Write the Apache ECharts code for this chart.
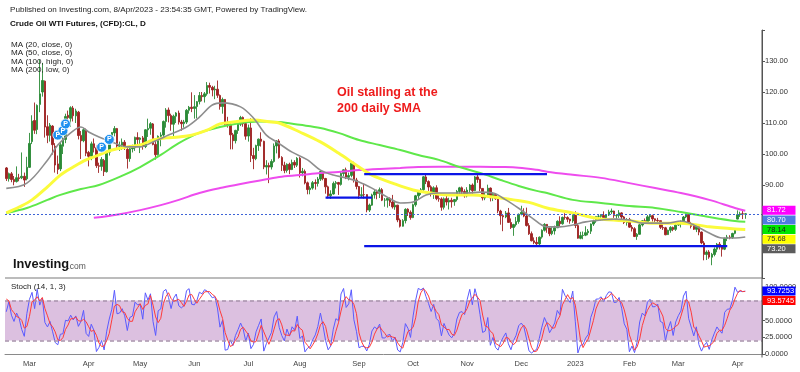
<!DOCTYPE html>
<html><head><meta charset="utf-8">
<script src="https://cdn.jsdelivr.net/npm/echarts/dist/echarts.min.js"></script>
<style>html,body{margin:0;padding:0;background:#fff}#c{width:800px;height:372px}</style>
</head><body><div id="c"></div>
<script>
// ---- DATA ----
// look-back bars (before the visible window) used only by the stochastic: [date, open, high, low, close]
const preCandles = [
["2022-01-25",84.3,86.0,83.0,85.60],["2022-01-26",85.6,87.9,85.3,87.35],["2022-01-27",87.4,88.2,85.7,87.61],
["2022-01-28",87.6,88.8,86.1,86.82],["2022-01-31",86.8,88.4,86.2,88.15],["2022-02-01",88.2,88.8,86.7,88.20],
["2022-02-02",88.2,89.0,86.6,88.26],["2022-02-03",88.3,90.4,87.7,90.27],["2022-02-04",90.3,93.2,89.8,92.31],
["2022-02-07",92.3,92.7,90.1,91.32],["2022-02-08",91.3,91.7,88.8,89.36],["2022-02-09",89.4,90.5,88.4,89.66],
["2022-02-10",89.7,91.5,88.7,89.88],["2022-02-11",89.9,94.7,88.9,93.10],["2022-02-14",93.1,95.8,92.5,95.46]
];
// visible daily bars: [date, open, high, low, close]
const candles = [
["2022-02-15",95.5,95.8,91.3,92.07],["2022-02-16",92.0,94.0,91.1,93.66],["2022-02-17",93.6,94.2,90.9,91.76],
["2022-02-18",91.8,92.9,89.9,91.07],["2022-02-22",91.1,96.0,90.8,92.35],["2022-02-23",92.3,93.6,91.2,92.10],
["2022-02-24",92.3,100.5,91.9,92.81],["2022-02-25",92.8,94.0,89.4,91.59],["2022-02-28",92.0,99.1,91.5,95.72],
["2022-03-01",95.7,106.8,95.5,103.41],["2022-03-02",104.0,112.5,103.2,110.60],["2022-03-03",110.8,116.6,106.5,107.67],
["2022-03-04",107.9,116.0,106.4,115.68],["2022-03-07",116.0,130.5,113.5,119.40],["2022-03-08",120.0,129.4,118.5,123.70],
["2022-03-09",123.5,123.7,105.3,108.70],["2022-03-10",108.8,112.5,103.5,106.02],["2022-03-11",106.0,110.0,104.0,109.33],
["2022-03-14",109.0,109.3,99.8,103.01],["2022-03-15",102.5,103.5,94.0,96.44],["2022-03-16",96.8,99.5,93.5,95.04],
["2022-03-17",95.2,103.8,94.5,102.98],["2022-03-18",102.5,106.0,100.0,104.70],["2022-03-21",104.7,113.0,103.5,112.12],
["2022-03-22",112.5,114.0,108.5,111.76],["2022-03-23",111.5,115.4,108.8,114.93],["2022-03-24",114.8,115.5,110.5,112.34],
["2022-03-25",112.3,114.6,110.0,113.90],["2022-03-28",113.5,113.9,104.7,105.96],["2022-03-29",106.0,107.4,98.4,104.24],
["2022-03-30",104.3,108.4,103.8,107.82],["2022-03-31",107.5,108.2,99.3,100.28],
["2022-04-01",100.5,101.0,96.0,99.27],["2022-04-04",99.3,104.0,98.0,103.28],["2022-04-05",103.3,105.0,100.5,102.00],
["2022-04-06",102.0,102.7,95.5,96.23],["2022-04-07",96.2,97.2,93.9,96.03],["2022-04-08",96.0,99.0,94.6,98.26],
["2022-04-11",97.9,98.4,92.9,94.29],["2022-04-12",94.3,101.0,94.0,100.60],["2022-04-13",100.6,104.6,99.5,104.25],
["2022-04-14",104.2,107.0,103.5,106.95],["2022-04-18",106.8,109.0,105.7,108.21],["2022-04-19",108.2,108.4,101.8,102.56],
["2022-04-20",102.5,104.0,101.0,102.75],["2022-04-21",102.8,105.0,101.3,103.79],["2022-04-22",103.8,104.5,101.3,102.07],
["2022-04-25",101.5,102.3,95.3,98.54],["2022-04-26",98.5,102.0,97.5,101.70],["2022-04-27",101.7,103.0,100.5,102.02],
["2022-04-28",102.0,105.6,101.0,105.36],["2022-04-29",105.3,107.0,103.2,104.69],
["2022-05-02",104.7,105.4,100.3,105.17],["2022-05-03",105.2,105.8,101.4,102.41],["2022-05-04",102.4,108.0,101.9,107.81],
["2022-05-05",107.8,111.4,105.5,108.26],["2022-05-06",108.3,110.3,106.2,109.77],["2022-05-09",109.7,110.0,102.8,103.09],
["2022-05-10",103.1,104.4,98.2,99.76],["2022-05-11",99.8,106.0,99.5,105.71],["2022-05-12",105.7,107.0,102.5,106.13],
["2022-05-13",106.1,110.8,105.0,110.49],["2022-05-16",110.5,114.8,108.5,114.20],["2022-05-17",114.2,115.0,110.2,112.40],
["2022-05-18",112.4,113.0,107.5,109.59],["2022-05-19",109.6,112.7,105.4,112.21],["2022-05-20",112.2,113.5,110.0,113.23],
["2022-05-23",113.2,114.0,109.5,110.29],["2022-05-24",110.3,111.0,107.5,109.77],["2022-05-25",109.8,111.0,108.5,110.33],
["2022-05-26",110.3,114.5,109.7,114.09],["2022-05-27",114.1,115.5,113.0,115.07],["2022-05-31",115.1,119.9,113.5,114.67],
["2022-06-01",114.7,119.0,111.4,115.26],["2022-06-02",115.3,117.1,111.5,116.87],["2022-06-03",116.9,120.0,116.0,118.87],
["2022-06-06",118.9,120.0,117.0,118.50],["2022-06-07",118.5,120.0,116.6,119.41],["2022-06-08",119.4,123.2,118.8,122.11],
["2022-06-09",122.1,123.0,119.5,121.51],["2022-06-10",121.5,122.0,118.6,120.67],["2022-06-13",120.7,122.0,117.7,120.93],
["2022-06-14",120.9,123.7,118.1,118.93],["2022-06-15",118.9,119.2,114.3,115.31],["2022-06-16",115.3,118.2,113.0,117.59],
["2022-06-17",117.6,117.7,108.7,109.56],["2022-06-21",109.6,112.0,108.5,109.52],["2022-06-22",109.5,110.0,101.5,106.19],
["2022-06-23",106.2,106.8,101.5,104.27],["2022-06-24",104.3,107.8,103.4,107.62],["2022-06-27",107.6,110.0,106.5,109.57],
["2022-06-28",109.6,112.3,109.0,111.76],["2022-06-29",111.8,112.1,108.8,109.78],["2022-06-30",109.8,110.5,104.6,105.76],
["2022-07-01",105.8,109.5,104.0,108.43],["2022-07-05",108.4,111.5,97.4,99.50],["2022-07-06",99.5,102.0,95.1,98.53],
["2022-07-07",98.5,103.0,98.0,102.73],["2022-07-08",102.7,105.0,101.0,104.79],["2022-07-11",104.8,107.0,102.4,104.09],
["2022-07-12",104.1,104.3,95.1,95.84],["2022-07-13",95.8,98.0,93.4,96.30],["2022-07-14",96.3,97.2,90.6,95.78],
["2022-07-15",95.8,98.3,95.0,97.59],["2022-07-18",97.6,103.4,97.2,102.60],["2022-07-19",102.6,104.5,100.2,104.22],
["2022-07-20",104.2,104.8,98.5,98.88],["2022-07-21",98.9,99.3,94.5,96.35],["2022-07-22",96.4,97.5,93.8,94.70],
["2022-07-25",94.7,97.0,94.0,96.70],["2022-07-26",96.7,97.2,93.5,94.98],["2022-07-27",95.0,98.2,94.8,97.26],
["2022-07-28",97.3,98.0,95.5,96.42],["2022-07-29",96.4,99.0,95.8,98.62],
["2022-08-01",98.6,99.0,92.4,93.89],["2022-08-02",93.9,95.5,92.8,94.42],["2022-08-03",94.4,95.0,90.2,90.66],
["2022-08-04",90.7,91.1,87.0,88.54],["2022-08-05",88.5,89.6,87.0,89.01],["2022-08-08",89.0,91.3,88.5,90.76],
["2022-08-09",90.8,91.8,88.5,90.50],["2022-08-10",90.5,92.6,89.5,91.93],["2022-08-11",91.9,94.7,91.3,94.34],
["2022-08-12",94.3,94.4,91.5,92.09],["2022-08-15",92.1,92.3,87.2,89.41],["2022-08-16",89.4,89.8,85.7,86.53],
["2022-08-17",86.5,88.3,85.5,87.11],["2022-08-18",87.1,91.1,86.9,90.50],["2022-08-19",90.5,91.3,88.9,90.77],
["2022-08-22",90.8,91.0,86.8,90.23],["2022-08-23",90.2,94.3,89.8,93.74],["2022-08-24",93.7,95.1,92.8,94.89],
["2022-08-25",94.9,95.6,91.9,92.52],["2022-08-26",92.5,94.0,91.5,93.06],["2022-08-29",93.1,97.5,92.5,97.01],
["2022-08-30",97.0,97.5,90.8,91.64],["2022-08-31",91.6,92.3,88.6,89.55],
["2022-09-01",89.5,89.7,85.5,86.61],["2022-09-02",86.6,89.3,86.1,86.87],["2022-09-06",86.9,90.4,85.6,86.88],
["2022-09-07",86.9,87.0,81.2,81.94],["2022-09-08",81.9,84.0,81.3,83.54],["2022-09-09",83.5,87.2,83.3,86.79],
["2022-09-12",86.8,88.6,85.6,87.78],["2022-09-13",87.8,88.5,85.4,87.31],["2022-09-14",87.3,89.2,85.8,88.48],
["2022-09-15",88.5,89.0,84.8,85.10],["2022-09-16",85.1,85.8,83.0,85.11],["2022-09-19",85.1,86.0,82.7,85.73],
["2022-09-20",85.7,86.0,83.2,84.45],["2022-09-21",84.5,86.8,82.4,82.94],["2022-09-22",82.9,84.5,82.0,83.49],
["2022-09-23",83.5,83.6,78.0,78.74],["2022-09-26",78.7,79.2,76.3,76.71],["2022-09-27",76.7,79.0,76.6,78.50],
["2022-09-28",78.5,82.5,77.6,82.15],["2022-09-29",82.2,82.5,80.0,81.23],["2022-09-30",81.2,81.8,78.8,79.49],
["2022-10-03",79.5,84.0,79.3,83.63],["2022-10-04",83.6,86.8,83.0,86.52],["2022-10-05",86.5,88.0,85.4,87.76],
["2022-10-06",87.8,89.0,86.8,88.45],["2022-10-07",88.5,92.9,88.1,92.64],["2022-10-10",92.6,93.6,90.3,91.13],
["2022-10-11",91.1,91.5,88.1,89.35],["2022-10-12",89.4,89.9,86.3,87.27],["2022-10-13",87.3,89.6,85.5,89.11],
["2022-10-14",89.1,89.9,85.1,85.61],["2022-10-17",85.6,86.8,84.6,85.46],["2022-10-18",85.5,86.0,81.7,82.82],
["2022-10-19",82.8,86.0,82.1,85.55],["2022-10-20",85.6,86.6,83.4,84.51],["2022-10-21",84.5,85.9,82.1,85.05],
["2022-10-24",85.1,85.9,82.7,84.58],["2022-10-25",84.6,85.5,83.3,85.32],["2022-10-26",85.3,88.4,84.7,87.91],
["2022-10-27",87.9,89.4,87.0,89.08],["2022-10-28",89.1,89.5,87.0,87.90],["2022-10-31",87.9,88.6,85.9,86.53],
["2022-11-01",86.5,89.3,86.0,88.37],["2022-11-02",88.4,90.3,87.5,90.00],["2022-11-03",90.0,90.5,87.2,88.17],
["2022-11-04",88.2,92.9,88.0,92.61],["2022-11-07",92.6,93.7,90.7,91.79],["2022-11-08",91.8,92.0,88.0,88.91],
["2022-11-09",88.9,89.0,85.0,85.83],["2022-11-10",85.8,87.6,85.1,86.47],["2022-11-11",86.5,90.1,86.1,88.96],
["2022-11-14",89.0,89.2,84.7,85.87],["2022-11-15",85.9,87.6,84.8,86.92],["2022-11-16",86.9,87.3,85.2,85.59],
["2022-11-17",85.6,85.8,80.9,81.64],["2022-11-18",81.6,82.0,77.2,80.08],["2022-11-21",80.1,80.5,75.1,79.73],
["2022-11-22",79.7,81.6,79.3,80.95],["2022-11-23",81.0,82.6,77.8,77.94],["2022-11-25",77.9,79.2,75.8,76.28],
["2022-11-28",76.3,77.5,73.6,77.24],["2022-11-29",77.2,79.7,76.6,78.20],["2022-11-30",78.2,80.8,77.5,80.55],
["2022-12-01",80.6,83.3,80.2,81.22],["2022-12-02",81.2,82.5,79.6,79.98],["2022-12-05",80.0,82.7,76.6,76.93],
["2022-12-06",76.9,77.7,73.9,74.25],["2022-12-07",74.3,75.0,71.8,72.01],["2022-12-08",72.0,73.1,70.9,71.46],
["2022-12-09",71.5,73.2,70.1,71.02],["2022-12-12",71.0,73.4,70.5,73.17],["2022-12-13",73.2,75.7,72.7,75.39],
["2022-12-14",75.4,77.7,75.0,77.28],["2022-12-15",77.3,77.4,74.6,76.11],["2022-12-16",76.1,76.3,73.5,74.29],
["2022-12-19",74.3,76.4,73.8,75.19],["2022-12-20",75.2,76.9,74.0,76.23],["2022-12-21",76.2,78.6,76.1,78.29],
["2022-12-22",78.3,79.9,76.6,77.49],["2022-12-23",77.5,79.8,77.2,79.56],["2022-12-27",79.6,80.9,78.8,79.53],
["2022-12-28",79.5,79.9,78.0,78.96],["2022-12-29",79.0,79.1,77.5,78.40],["2022-12-30",78.4,80.5,77.8,80.26],
["2023-01-03",80.6,81.5,76.1,76.93],["2023-01-04",76.9,77.4,72.7,72.84],["2023-01-05",72.8,74.9,72.5,73.67],
["2023-01-06",73.7,75.0,72.5,73.77],["2023-01-09",73.8,76.7,73.5,74.63],["2023-01-10",74.6,75.8,73.8,75.12],
["2023-01-11",75.1,77.6,74.2,77.41],["2023-01-12",77.4,78.8,76.8,78.39],["2023-01-13",78.4,80.0,77.8,79.86],
["2023-01-16",79.9,80.3,79.2,79.90],["2023-01-17",79.9,80.6,78.5,80.18],["2023-01-18",80.2,81.5,78.8,79.48],
["2023-01-19",79.5,80.6,78.5,80.33],["2023-01-20",80.3,82.0,80.0,81.31],["2023-01-23",81.3,82.4,80.6,81.62],
["2023-01-24",81.6,81.7,79.4,80.13],["2023-01-25",80.1,80.6,78.6,80.15],["2023-01-26",80.2,81.9,79.4,81.01],
["2023-01-27",81.0,81.2,78.9,79.68],["2023-01-30",79.7,80.0,77.4,77.90],["2023-01-31",77.9,79.3,76.9,78.87],
["2023-02-01",78.9,79.4,76.2,76.41],["2023-02-02",76.4,77.1,75.0,75.88],["2023-02-03",75.9,76.4,73.2,73.39],
["2023-02-06",73.4,74.5,72.3,74.11],["2023-02-07",74.1,77.5,74.0,77.14],["2023-02-08",77.1,78.7,76.6,78.47],
["2023-02-09",78.5,79.2,77.4,78.06],["2023-02-10",78.1,80.3,77.8,79.72],["2023-02-13",79.7,80.6,78.4,80.14],
["2023-02-14",80.1,80.4,78.2,79.06],["2023-02-15",79.1,79.2,77.6,78.59],["2023-02-16",78.6,79.4,77.9,78.49],
["2023-02-17",78.5,78.5,75.8,76.34],["2023-02-21",76.3,77.3,75.5,76.16],["2023-02-22",76.2,76.5,73.8,73.95],
["2023-02-23",74.0,75.6,73.9,75.39],["2023-02-24",75.4,76.7,74.6,76.32],["2023-02-27",76.3,76.6,75.1,75.68],
["2023-02-28",75.7,77.3,75.2,77.05],
["2023-03-01",77.1,78.0,76.8,77.69],["2023-03-02",77.7,78.6,76.3,78.16],["2023-03-03",78.2,80.0,77.6,79.68],
["2023-03-06",79.7,80.9,79.3,80.46],["2023-03-07",80.5,80.7,77.3,77.58],["2023-03-08",77.6,78.1,76.0,76.66],
["2023-03-09",76.7,77.7,75.5,75.72],["2023-03-10",75.7,77.3,74.8,76.68],["2023-03-13",76.7,77.0,73.8,74.80],
["2023-03-14",74.8,75.0,70.9,71.33],["2023-03-15",71.3,71.9,65.7,67.61],["2023-03-16",67.6,68.9,65.8,68.35],
["2023-03-17",68.4,69.0,66.2,66.74],["2023-03-20",66.7,68.1,64.12,67.64],["2023-03-21",67.6,69.9,67.0,69.33],
["2023-03-22",69.3,71.3,68.3,70.90],["2023-03-23",70.9,71.6,69.2,69.96],["2023-03-24",70.0,70.1,66.9,69.26],
["2023-03-27",69.3,73.0,69.0,72.81],["2023-03-28",72.8,73.9,71.9,73.20],["2023-03-29",73.2,73.8,72.5,72.97],
["2023-03-30",73.0,74.6,72.6,74.37],["2023-03-31",74.4,75.7,74.1,75.67],
["2023-04-03",79.0,81.81,78.9,80.42],["2023-04-04",80.4,81.4,79.7,80.71],["2023-04-05",80.7,81.6,79.0,80.61],
["2023-04-06",80.6,80.9,79.1,80.70]
];
// empty future slots on the right of the time axis
const futureDates = ["2023-04-10","2023-04-11","2023-04-12","2023-04-13","2023-04-14","2023-04-17"];

// moving averages: [date, value]
const ma20Close = [["2022-02-15",88.9],["2022-02-28",90.6],["2022-03-10",98.0],["2022-03-16",102.9],["2022-03-23",106.8],["2022-03-29",108.7],["2022-04-01",107.1],["2022-04-07",105.5],["2022-04-14",103.9],["2022-04-25",102.3],["2022-05-02",102.3],["2022-05-09",103.9],["2022-05-17",106.1],["2022-05-26",108.7],["2022-06-03",111.9],["2022-06-10",115.8],["2022-06-16",116.5],["2022-06-28",115.2],["2022-07-06",111.6],["2022-07-13",106.1],["2022-07-19",103.9],["2022-07-27",100.6],["2022-08-04",98.1],["2022-08-11",94.8],["2022-08-18",93.2],["2022-08-25",92.3],["2022-09-01",91.0],["2022-09-09",89.0],["2022-09-19",86.1],["2022-09-26",84.2],["2022-10-03",84.5],["2022-10-10",86.8],["2022-10-17",87.4],["2022-10-24",87.4],["2022-11-01",87.4],["2022-11-08",87.7],["2022-11-15",87.4],["2022-11-22",85.2],["2022-11-30",82.5],["2022-12-07",79.5],["2022-12-15",76.5],["2022-12-22",76.5],["2022-12-30",77.1],["2023-01-09",78.1],["2023-01-17",78.7],["2023-01-24",79.0],["2023-02-01",78.7],["2023-02-08",77.7],["2023-02-15",77.7],["2023-02-23",77.7],["2023-03-02",78.4],["2023-03-09",77.1],["2023-03-17",74.5],["2023-03-24",72.9],["2023-03-31",72.9],["2023-04-06",73.20]];
const ma50Close = [["2022-02-15",81.0],["2022-02-23",82.9],["2022-03-02",85.2],["2022-03-10",89.4],["2022-03-17",93.2],["2022-03-24",95.8],["2022-03-31",98.1],["2022-04-07",99.7],["2022-04-14",101.3],["2022-04-25",102.3],["2022-05-02",102.9],["2022-05-09",104.5],["2022-05-16",105.2],["2022-05-23",105.5],["2022-05-31",106.1],["2022-06-08",107.7],["2022-06-15",109.7],["2022-06-23",110.3],["2022-07-06",111.0],["2022-07-15",110.3],["2022-07-20",110.0],["2022-08-01",107.1],["2022-08-11",103.9],["2022-08-22",100.3],["2022-09-01",95.8],["2022-09-09",93.2],["2022-09-21",90.6],["2022-10-03",88.4],["2022-10-12",87.4],["2022-10-24",86.8],["2022-11-03",86.8],["2022-11-15",86.1],["2022-11-28",85.2],["2022-12-06",84.4],["2022-12-15",82.6],["2022-12-30",81.0],["2023-01-17",79.0],["2023-02-01",78.4],["2023-02-15",77.7],["2023-03-02",77.7],["2023-03-17",76.5],["2023-03-31",75.8],["2023-04-06",75.68]];
const ma100High = [["2022-02-15",81.0],["2022-02-28",82.6],["2022-03-10",85.2],["2022-03-17",86.8],["2022-03-29",88.7],["2022-04-07",90.0],["2022-04-20",92.6],["2022-05-02",95.8],["2022-05-12",99.7],["2022-05-23",103.5],["2022-06-03",106.8],["2022-06-15",108.7],["2022-06-28",110.0],["2022-07-08",110.5],["2022-07-20",110.3],["2022-08-01",109.4],["2022-08-11",108.4],["2022-08-22",106.8],["2022-09-01",104.5],["2022-09-14",102.9],["2022-09-26",101.3],["2022-10-05",99.7],["2022-10-17",98.1],["2022-10-27",95.8],["2022-11-08",93.9],["2022-11-18",91.6],["2022-11-30",89.7],["2022-12-09",88.1],["2022-12-15",87.4],["2022-12-30",85.2],["2023-01-17",84.2],["2023-02-01",83.2],["2023-02-15",82.6],["2023-03-02",81.3],["2023-03-17",79.7],["2023-03-31",78.4],["2023-04-06",78.14]];
const ma200Low = [["2022-04-05",79.4],["2022-04-20",80.6],["2022-05-02",81.9],["2022-05-12",83.5],["2022-05-23",85.2],["2022-06-03",87.4],["2022-06-15",89.0],["2022-06-28",90.3],["2022-07-08",91.4],["2022-07-20",92.6],["2022-08-01",93.2],["2022-08-11",93.9],["2022-08-22",94.2],["2022-09-01",94.8],["2022-09-14",95.2],["2022-09-26",95.5],["2022-10-05",95.8],["2022-10-17",95.9],["2022-10-27",95.9],["2022-11-08",95.9],["2022-11-18",95.8],["2022-11-30",95.6],["2022-12-09",94.9],["2022-12-15",94.3],["2022-12-30",93.3],["2023-01-17",92.3],["2023-02-01",90.6],["2023-02-15",89.0],["2023-03-02",87.4],["2023-03-17",85.2],["2023-03-31",82.6],["2023-04-06",81.72]];

// drawn horizontal levels: [start date, end date, price]
const upperLevel = ["2022-09-06","2022-12-15",93.5];
const shortLevel = ["2022-08-15","2022-09-09",85.9];
const lowerLevel = ["2022-09-06","2023-03-28",70.3];
// "P" event markers
const pMarkers = [["2022-03-16",106.1],["2022-03-18",107.5],["2022-03-21",109.7],["2022-04-08",102.2],["2022-04-13",104.7]];

const priceTicks = [90,100,110,120,130];
const stochTicks = [0,25,50,100];
const monthNames = ["Jan","Feb","Mar","Apr","May","Jun","Jul","Aug","Sep","Oct","Nov","Dec"];
const stochBand = [20,80];
const stochPeriod = 14, stochSmooth = 3;

// ---- BUILD ----
const dates = candles.map(r => r[0]).concat(futureDates);
const ohlc = candles.map(r => [r[1], r[4], r[3], r[2]]);
const lastClose = candles[candles.length-1][4];

// Stochastic (14,1,3) from the bars
const all = preCandles.concat(candles);
const kAll = all.map((r,i) => {
  if (i < stochPeriod-1) return null;
  let hh=-Infinity, ll=Infinity;
  for (let j=i-stochPeriod+1;j<=i;j++){ hh=Math.max(hh,all[j][2]); ll=Math.min(ll,all[j][3]); }
  return 100*(r[4]-ll)/(hh-ll);
});
const dAll = kAll.map((k,i) => (i < stochPeriod-1+stochSmooth-1) ? null : (kAll[i]+kAll[i-1]+kAll[i-2])/3);
const stochK = kAll.slice(preCandles.length);
const stochD = dAll.slice(preCandles.length);

const monthStart = new Set();
dates.forEach((d,i)=>{ if(i>0 && d.slice(0,7)!==dates[i-1].slice(0,7)) monthStart.add(i); });

const FONT = '"Liberation Sans", Arial, sans-serif';
const chart = echarts.init(document.getElementById('c'));

const GL = 5, GR = 38;
const option = {
  animation:false,
  backgroundColor:'#ffffff',
  grid:[
    {left:GL, right:GR, top:30, height:248},
    {left:GL, right:GR, top:287, height:67}
  ],
  xAxis:[
    {type:'category', gridIndex:0, data:dates, boundaryGap:true, show:false},
    {type:'category', gridIndex:1, data:dates, boundaryGap:true, offset:3,
     axisLine:{show:true, lineStyle:{color:'#8a8a8a', width:1}}, axisTick:{show:false},
     axisLabel:{interval:(i)=>monthStart.has(i), margin:3, fontSize:7.5, color:'#444', fontFamily:FONT,
       formatter:(v)=>{const m=+v.slice(5,7); return m===1 ? v.slice(0,4) : monthNames[m-1];}},
     splitLine:{show:false}}
  ],
  yAxis:[
    {type:'value', gridIndex:0, position:'right', min:60, max:140, interval:10, scale:false,
     axisLine:{show:true, lineStyle:{color:'#555'}}, axisTick:{show:true, length:3, lineStyle:{color:'#555'}},
     splitLine:{show:false},
     axisLabel:{margin:3, fontSize:7.5, color:'#333', fontFamily:FONT,
       formatter:(v)=> priceTicks.includes(v) ? v.toFixed(2) : ''}},
    {type:'value', gridIndex:1, position:'right', min:0, max:100, interval:25,
     axisLine:{show:true, lineStyle:{color:'#555'}}, axisTick:{show:true, length:3, lineStyle:{color:'#555'}},
     splitLine:{show:false},
     axisLabel:{margin:3, fontSize:7.5, color:'#333', fontFamily:FONT,
       formatter:(v)=> stochTicks.includes(v) ? v.toFixed(4) : ''}}
  ],
  series:[
    {type:'candlestick', name:'CL', xAxisIndex:0, yAxisIndex:0, data:ohlc, barWidth:2, z:3,
     itemStyle:{color:'#2a8a35', color0:'#9e2222', borderColor:'#2a8a35', borderColor0:'#9e2222', borderWidth:0.9},
     markLine:{silent:true, symbol:'none', label:{show:false},
       lineStyle:{type:[2,2], color:'#3d63d6', width:1}, data:[{yAxis:lastClose}]}},
    {type:'line', name:'MA200 low', data:ma200Low, smooth:0.35, showSymbol:false, z:4,
     lineStyle:{color:'#ee4cee', width:2}},
    {type:'line', name:'MA100 high', data:ma100High, smooth:0.35, showSymbol:false, z:4,
     lineStyle:{color:'#5fe84a', width:2}},
    {type:'line', name:'MA50 close', data:ma50Close, smooth:0.35, showSymbol:false, z:4,
     lineStyle:{color:'#fbfb3c', width:3}},
    {type:'line', name:'MA20 close', data:ma20Close, smooth:0.35, showSymbol:false, z:4,
     lineStyle:{color:'#8e8e8e', width:1.6}},
    {type:'line', name:'upper', data:[[upperLevel[0],upperLevel[2]],[upperLevel[1],upperLevel[2]]], showSymbol:false, z:5,
     lineStyle:{color:'#0a14e6', width:2.2}},
    {type:'line', name:'short', data:[[shortLevel[0],shortLevel[2]],[shortLevel[1],shortLevel[2]]], showSymbol:false, z:5,
     lineStyle:{color:'#0a14e6', width:2.2}},
    {type:'line', name:'lower', data:[[lowerLevel[0],lowerLevel[2]],[lowerLevel[1],lowerLevel[2]]], showSymbol:false, z:5,
     lineStyle:{color:'#0a14e6', width:2.2}},
    {type:'scatter', name:'P', data:pMarkers, symbolSize:10, z:6,
     itemStyle:{color:'#1e90f0', borderColor:'#ffffff', borderWidth:0.8, opacity:1},
     label:{show:true, formatter:'P', position:'inside', color:'#fff', fontSize:7, fontWeight:'bold', fontFamily:FONT}},
    {type:'line', name:'%K', xAxisIndex:1, yAxisIndex:1, data:stochK, showSymbol:false, z:4,
     lineStyle:{color:'#5a5aff', width:1},
     markArea:{silent:true, itemStyle:{color:'#dcc0e0'}, data:[[{yAxis:stochBand[0]},{yAxis:stochBand[1]}]]},
     markLine:{silent:true, symbol:'none', label:{show:false},
       lineStyle:{type:[4,3], color:'#a893ac', width:1.5},
       data:[{yAxis:stochBand[0]},{yAxis:stochBand[1]}]}},
    {type:'line', name:'%D', xAxisIndex:1, yAxisIndex:1, data:stochD, showSymbol:false, z:5,
     lineStyle:{color:'#ff3b3b', width:1}}
  ],
  graphic:[
    {type:'text', id:'pub', left:10, top:6, z:10, style:{text:'Published on Investing.com, 8/Apr/2023 - 23:54:35 GMT, Powered by TradingView.', font:'8.1px '+FONT, fill:'#222'}},
    {type:'text', id:'ttl', left:10, top:20, z:10, style:{text:'Crude Oil WTI Futures, (CFD):CL, D', font:'bold 8.1px '+FONT, fill:'#111'}},
    {type:'text', id:'mas', left:11, top:40.5, z:10, style:{text:'MA (20, close, 0)\nMA (50, close, 0)\nMA (100, high, 0)\nMA (200, low, 0)', font:'8.1px '+FONT, lineHeight:8.5, fill:'#222'}},
    {type:'text', id:'note', left:337, top:85, z:10, style:{text:'Oil stalling at the\n200 daily SMA', font:'bold 12.5px '+FONT, lineHeight:16, fill:'#ee1c1c'}},
    {type:'text', id:'logo1', left:13, top:257.5, z:10, style:{text:'Investing', font:'bold 12.8px '+FONT, fill:'#151515'}},
    {type:'text', id:'logo2', left:67.5, top:262, z:10, style:{text:'.com', font:'8.5px '+FONT, fill:'#555'}},
    {type:'text', id:'stl', left:11, top:283, z:10, style:{text:'Stoch (14, 1, 3)', font:'8px '+FONT, fill:'#222'}},
    {type:'line', id:'sep', z:9, shape:{x1:5, y1:278, x2:762, y2:278}, style:{stroke:'#a6a6a6', lineWidth:1.5}},
    {type:'line', id:'vax', z:9, shape:{x1:762, y1:30, x2:762, y2:357.5}, style:{stroke:'#555', lineWidth:1}}
  ]
};
chart.setOption(option);

// right-edge value boxes, stacked like the original
function boxes(items, yIdx, idPrefix){
  items.sort((a,b)=>b.v-a.v);
  const out=[]; let prev=-Infinity; const H=9.6;
  items.forEach((it,i)=>{
    let cy = chart.convertToPixel({yAxisIndex:yIdx}, it.v);
    cy = Math.max(cy, prev + H); prev = cy;
    out.push({type:'rect', id:idPrefix+'r'+i, z:20, shape:{x:762.5, y:cy-H/2, width:33, height:H-0.6}, style:{fill:it.bg}});
    out.push({type:'text', id:idPrefix+'t'+i, z:21, style:{text:it.txt, x:767, y:cy-0.3, verticalAlign:'middle', font:'7.5px '+FONT, fill:it.fg}});
  });
  return out;
}
const last = a => a[a.length-1][1];
const priceBoxes = boxes([
  {v:last(ma200Low), txt:last(ma200Low).toFixed(2), bg:'#ff00ff', fg:'#ffffff'},
  {v:lastClose, txt:lastClose.toFixed(2), bg:'#4f7be0', fg:'#ffffff'},
  {v:last(ma100High), txt:last(ma100High).toFixed(2), bg:'#00e600', fg:'#1a1a1a'},
  {v:last(ma50Close), txt:last(ma50Close).toFixed(2), bg:'#ffff00', fg:'#333333'},
  {v:last(ma20Close), txt:last(ma20Close).toFixed(2), bg:'#5c5c5c', fg:'#ffffff'}
], 0, 'pb');
const kLast = stochK[stochK.length-1], dLast = stochD[stochD.length-1];
const stochBoxes = boxes([
  {v:kLast, txt:kLast.toFixed(4), bg:'#0000ff', fg:'#ffffff'},
  {v:dLast, txt:dLast.toFixed(4), bg:'#ff0000', fg:'#ffffff'}
], 1, 'sb');
chart.setOption({graphic: priceBoxes.concat(stochBoxes)});
</script>
</body></html>
